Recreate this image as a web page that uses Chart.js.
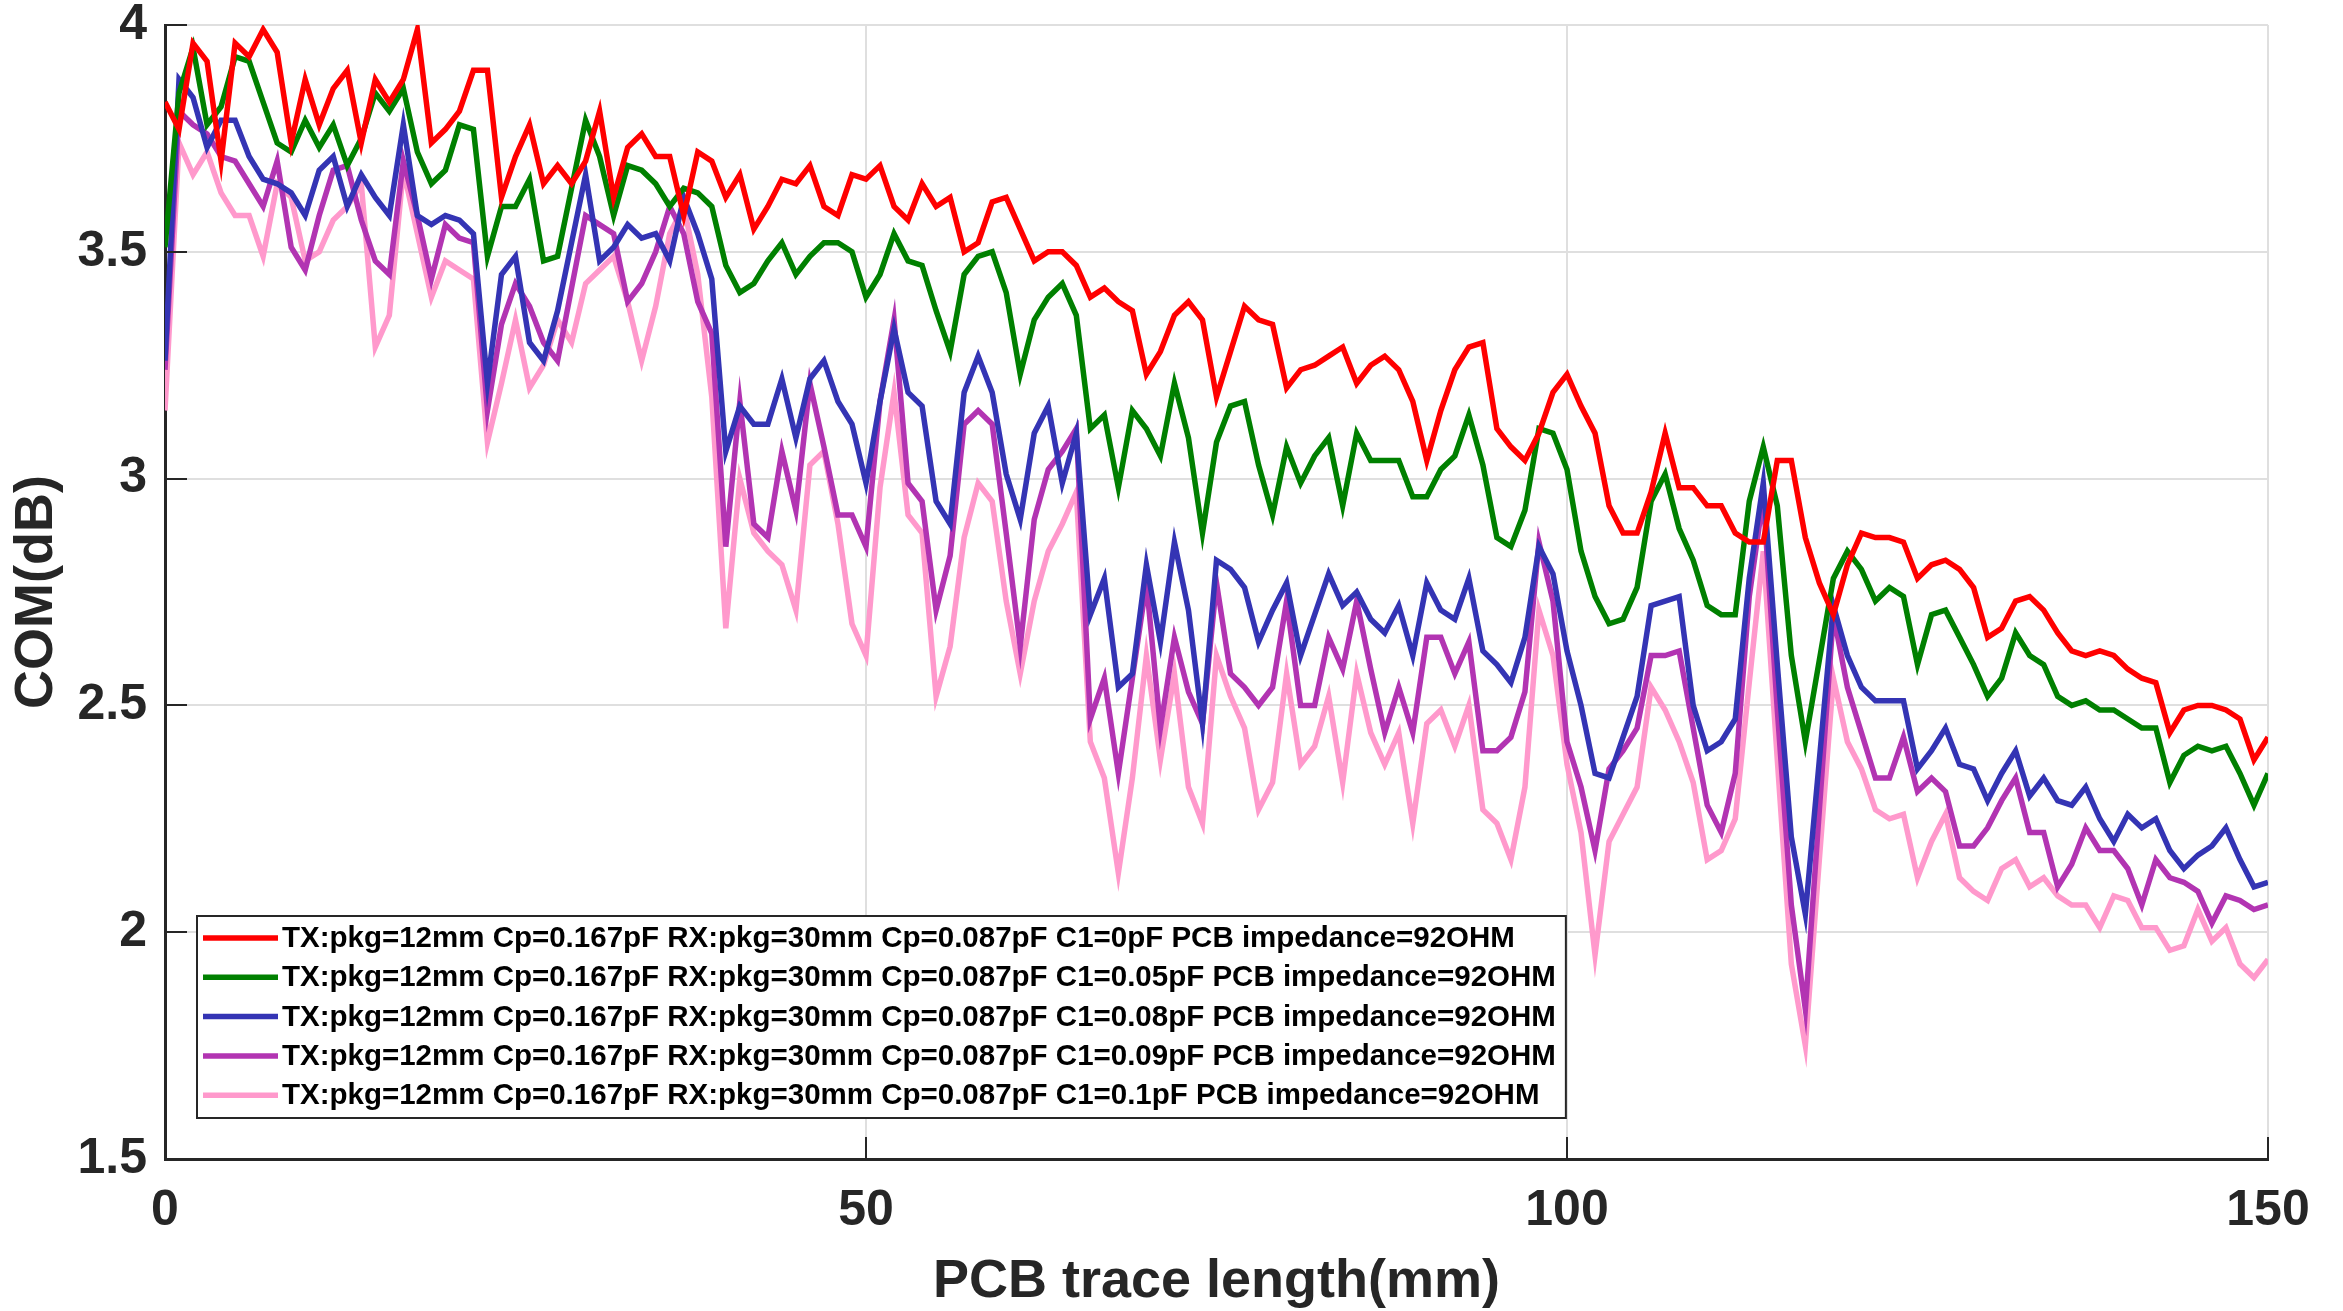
<!DOCTYPE html>
<html>
<head>
<meta charset="utf-8">
<title>COM vs PCB trace length</title>
<script src="https://cdn.jsdelivr.net/npm/chart.js@4.4.1/dist/chart.umd.min.js"></script>
<style>
    html, body { margin: 0; padding: 0; background: #fff; }
    #wrap { width: 2343px; height: 1311px; }
</style>
</head>
<body>
<div id="wrap"><canvas id="com-chart" width="2343" height="1311"></canvas></div>
<script>
// PCB trace length in mm, one sample per mm
const traceLength = Array.from({ length: 151 }, (_, i) => i);

const seriesLabels = [
    'TX:pkg=12mm Cp=0.167pF RX:pkg=30mm Cp=0.087pF C1=0pF PCB impedance=92OHM',
    'TX:pkg=12mm Cp=0.167pF RX:pkg=30mm Cp=0.087pF C1=0.05pF PCB impedance=92OHM',
    'TX:pkg=12mm Cp=0.167pF RX:pkg=30mm Cp=0.087pF C1=0.08pF PCB impedance=92OHM',
    'TX:pkg=12mm Cp=0.167pF RX:pkg=30mm Cp=0.087pF C1=0.09pF PCB impedance=92OHM',
    'TX:pkg=12mm Cp=0.167pF RX:pkg=30mm Cp=0.087pF C1=0.1pF PCB impedance=92OHM'
];
const seriesColors = ['#FF0000', '#008000', '#3434B4', '#B234B2', '#FF99CC'];

// COM (dB), C1 = 0pF
const comC1_0 = [
    3.83, 3.77, 3.96, 3.92, 3.70, 3.96, 3.93, 3.99, 3.94, 3.74,
    3.88, 3.78, 3.86, 3.90, 3.74, 3.88, 3.83, 3.88, 3.99, 3.74,
    3.77, 3.81, 3.90, 3.90, 3.62, 3.71, 3.78, 3.65, 3.69, 3.65,
    3.70, 3.81, 3.62, 3.73, 3.76, 3.71, 3.71, 3.58, 3.72, 3.70,
    3.62, 3.67, 3.55, 3.60, 3.66, 3.65, 3.69, 3.60, 3.58, 3.67,
    3.66, 3.69, 3.60, 3.57, 3.65, 3.60, 3.62, 3.50, 3.52, 3.61,
    3.62, 3.55, 3.48, 3.50, 3.50, 3.47, 3.40, 3.42, 3.39, 3.37,
    3.23, 3.28, 3.36, 3.39, 3.35, 3.18, 3.28, 3.38, 3.35, 3.34,
    3.20, 3.24, 3.25, 3.27, 3.29, 3.21, 3.25, 3.27, 3.24, 3.17,
    3.04, 3.15, 3.24, 3.29, 3.30, 3.11, 3.07, 3.04, 3.10, 3.19,
    3.23, 3.16, 3.10, 2.94, 2.88, 2.88, 2.97, 3.10, 2.98, 2.98,
    2.94, 2.94, 2.88, 2.86, 2.86, 3.04, 3.04, 2.87, 2.77, 2.70,
    2.81, 2.88, 2.87, 2.87, 2.86, 2.78, 2.81, 2.82, 2.80, 2.76,
    2.65, 2.67, 2.73, 2.74, 2.71, 2.66, 2.62, 2.61, 2.62, 2.61,
    2.58, 2.56, 2.55, 2.44, 2.49, 2.50, 2.50, 2.49, 2.47, 2.38,
    2.43
];

// COM (dB), C1 = 0.05pF
const comC1_005 = [
    3.51, 3.85, 3.95, 3.78, 3.82, 3.93, 3.92, 3.83, 3.74, 3.72,
    3.79, 3.73, 3.78, 3.69, 3.75, 3.85, 3.81, 3.86, 3.72, 3.65,
    3.68, 3.78, 3.77, 3.49, 3.60, 3.60, 3.66, 3.48, 3.49, 3.64,
    3.79, 3.71, 3.58, 3.69, 3.68, 3.65, 3.60, 3.64, 3.63, 3.60,
    3.47, 3.41, 3.43, 3.48, 3.52, 3.45, 3.49, 3.52, 3.52, 3.50,
    3.40, 3.45, 3.54, 3.48, 3.47, 3.37, 3.28, 3.45, 3.49, 3.50,
    3.41, 3.23, 3.35, 3.40, 3.43, 3.36, 3.11, 3.14, 2.98, 3.15,
    3.11, 3.05, 3.21, 3.09, 2.88, 3.08, 3.16, 3.17, 3.03, 2.92,
    3.07, 2.99, 3.05, 3.09, 2.94, 3.10, 3.04, 3.04, 3.04, 2.96,
    2.96, 3.02, 3.05, 3.14, 3.03, 2.87, 2.85, 2.93, 3.11, 3.10,
    3.02, 2.84, 2.74, 2.68, 2.69, 2.76, 2.95, 3.01, 2.89, 2.82,
    2.72, 2.70, 2.70, 2.95, 3.07, 2.94, 2.61, 2.42, 2.60, 2.78,
    2.84, 2.80, 2.73, 2.76, 2.74, 2.59, 2.70, 2.71, 2.65, 2.59,
    2.52, 2.56, 2.66, 2.61, 2.59, 2.52, 2.50, 2.51, 2.49, 2.49,
    2.47, 2.45, 2.45, 2.33, 2.39, 2.41, 2.40, 2.41, 2.35, 2.28,
    2.35
];

// COM (dB), C1 = 0.08pF
const comC1_008 = [
    3.26, 3.88, 3.84, 3.73, 3.79, 3.79, 3.71, 3.66, 3.65, 3.63,
    3.58, 3.68, 3.71, 3.60, 3.67, 3.62, 3.58, 3.78, 3.58, 3.56,
    3.58, 3.57, 3.54, 3.21, 3.45, 3.49, 3.30, 3.26, 3.37, 3.52,
    3.67, 3.48, 3.51, 3.56, 3.53, 3.54, 3.48, 3.62, 3.54, 3.44,
    3.06, 3.16, 3.12, 3.12, 3.22, 3.09, 3.22, 3.26, 3.17, 3.12,
    2.99, 3.17, 3.33, 3.19, 3.16, 2.95, 2.90, 3.19, 3.27, 3.19,
    3.01, 2.91, 3.10, 3.16, 2.99, 3.10, 2.70, 2.78, 2.54, 2.57,
    2.81, 2.64, 2.86, 2.71, 2.46, 2.82, 2.80, 2.76, 2.64, 2.71,
    2.77, 2.61, 2.70, 2.79, 2.72, 2.75, 2.69, 2.66, 2.72, 2.61,
    2.77, 2.71, 2.69, 2.78, 2.62, 2.59, 2.55, 2.65, 2.85, 2.79,
    2.62, 2.50, 2.35, 2.34, 2.43, 2.52, 2.72, 2.73, 2.74, 2.50,
    2.40, 2.42, 2.47, 2.78, 2.99, 2.59, 2.21, 2.04, 2.38, 2.72,
    2.61, 2.54, 2.51, 2.51, 2.51, 2.36, 2.40, 2.45, 2.37, 2.36,
    2.29, 2.35, 2.40, 2.30, 2.34, 2.29, 2.28, 2.32, 2.25, 2.20,
    2.26, 2.23, 2.25, 2.18, 2.14, 2.17, 2.19, 2.23, 2.16, 2.10,
    2.11
];

// COM (dB), C1 = 0.09pF
const comC1_009 = [
    3.24, 3.81, 3.78, 3.76, 3.71, 3.70, 3.65, 3.60, 3.70, 3.51,
    3.46, 3.58, 3.68, 3.69, 3.57, 3.48, 3.45, 3.70, 3.58, 3.44,
    3.56, 3.53, 3.52, 3.15, 3.34, 3.43, 3.38, 3.30, 3.26, 3.42,
    3.58, 3.56, 3.54, 3.39, 3.43, 3.50, 3.60, 3.54, 3.39, 3.32,
    2.85, 3.17, 2.90, 2.87, 3.06, 2.93, 3.21, 3.07, 2.92, 2.92,
    2.85, 3.17, 3.35, 2.99, 2.95, 2.71, 2.83, 3.12, 3.15, 3.12,
    2.88, 2.63, 2.91, 3.02, 3.06, 3.11, 2.47, 2.56, 2.35, 2.56,
    2.77, 2.45, 2.65, 2.53, 2.46, 2.77, 2.57, 2.54, 2.50, 2.54,
    2.73, 2.50, 2.50, 2.65, 2.58, 2.73, 2.58, 2.44, 2.54, 2.44,
    2.65, 2.65, 2.57, 2.64, 2.40, 2.40, 2.43, 2.53, 2.86, 2.73,
    2.42, 2.32, 2.18, 2.36, 2.40, 2.45, 2.61, 2.61, 2.62, 2.45,
    2.28, 2.22, 2.35, 2.74, 2.96, 2.49, 2.06, 1.83, 2.27, 2.70,
    2.54, 2.44, 2.34, 2.34, 2.43, 2.31, 2.34, 2.31, 2.19, 2.19,
    2.23, 2.29, 2.34, 2.22, 2.22, 2.10, 2.15, 2.23, 2.18, 2.18,
    2.14, 2.06, 2.16, 2.12, 2.11, 2.09, 2.02, 2.08, 2.07, 2.05,
    2.06
];

// COM (dB), C1 = 0.1pF
const comC1_01 = [
    3.15, 3.74, 3.67, 3.72, 3.63, 3.58, 3.58, 3.49, 3.65, 3.62,
    3.48, 3.50, 3.57, 3.60, 3.65, 3.29, 3.36, 3.68, 3.54, 3.40,
    3.48, 3.46, 3.44, 3.08, 3.21, 3.35, 3.20, 3.25, 3.35, 3.30,
    3.43, 3.46, 3.49, 3.39, 3.26, 3.38, 3.54, 3.60, 3.45, 3.18,
    2.67, 3.00, 2.88, 2.84, 2.81, 2.71, 3.03, 3.06, 2.90, 2.68,
    2.61, 2.98, 3.19, 2.92, 2.88, 2.52, 2.63, 2.87, 2.99, 2.95,
    2.73, 2.57, 2.73, 2.84, 2.90, 2.97, 2.42, 2.34, 2.13, 2.34,
    2.61, 2.38, 2.57, 2.32, 2.24, 2.61, 2.52, 2.45, 2.27, 2.33,
    2.57, 2.37, 2.41, 2.52, 2.33, 2.57, 2.44, 2.37, 2.44, 2.24,
    2.46, 2.49, 2.41, 2.50, 2.27, 2.24, 2.16, 2.32, 2.71, 2.61,
    2.37, 2.22, 1.95, 2.20, 2.26, 2.32, 2.54, 2.49, 2.42, 2.33,
    2.16, 2.18, 2.25, 2.55, 2.84, 2.38, 1.93, 1.75, 2.16, 2.56,
    2.42, 2.36, 2.27, 2.25, 2.26, 2.12, 2.20, 2.26, 2.12, 2.09,
    2.07, 2.14, 2.16, 2.10, 2.12, 2.08, 2.06, 2.06, 2.01, 2.08,
    2.07, 2.01, 2.01, 1.96, 1.97, 2.05, 1.98, 2.01, 1.93, 1.90,
    1.94
];

const xTicks = [0, 50, 100, 150];
const yTicks = [1.5, 2, 2.5, 3, 3.5, 4];

const allSeries = [comC1_0, comC1_005, comC1_008, comC1_009, comC1_01];

const FONT = "'Liberation Sans', Arial, Helvetica, sans-serif";
const AXIS_COLOR = '#262626';

// legend box drawn inside the plot, lower left
const legendBoxPlugin = {
    id: 'legendBox',
    afterDatasetsDraw(chart) {
        const { ctx, chartArea } = chart;
        const rowH = 39.3;
        ctx.save();
        ctx.font = 'bold 29.5px ' + FONT;
        let maxW = 0;
        chart.data.datasets.forEach(ds => {
            maxW = Math.max(maxW, ctx.measureText(ds.label).width);
        });
        const w = 85 + maxW + 10;
        const h = 202;
        const x0 = chartArea.left + 32;
        const y0 = chartArea.bottom - 41 - h;

        ctx.fillStyle = '#ffffff';
        ctx.fillRect(x0, y0, w, h);
        ctx.strokeStyle = AXIS_COLOR;
        ctx.lineWidth = 2;
        ctx.strokeRect(x0, y0, w, h);

        chart.data.datasets.forEach((ds, i) => {
            const y = y0 + 22 + i * rowH;
            ctx.strokeStyle = ds.borderColor;
            ctx.lineWidth = 5.5;
            ctx.beginPath();
            ctx.moveTo(x0 + 6, y);
            ctx.lineTo(x0 + 81, y);
            ctx.stroke();
            ctx.fillStyle = '#000000';
            ctx.textAlign = 'left';
            ctx.textBaseline = 'middle';
            ctx.fillText(ds.label, x0 + 85, y + 1);
        });
        ctx.restore();
    }
};

// tick marks pointing into the plot on the left and bottom axes
const innerTicksPlugin = {
    id: 'innerTicks',
    afterDraw(chart) {
        const { ctx, chartArea, scales } = chart;
        const len = 22;
        ctx.save();
        ctx.strokeStyle = AXIS_COLOR;
        ctx.lineWidth = 2;
        ctx.beginPath();
        yTicks.forEach(v => {
            const py = Math.round(scales.y.getPixelForValue(v));
            ctx.moveTo(chartArea.left, py);
            ctx.lineTo(chartArea.left + len, py);
        });
        xTicks.forEach(v => {
            const px = Math.round(scales.x.getPixelForValue(v));
            ctx.moveTo(px, chartArea.bottom);
            ctx.lineTo(px, chartArea.bottom - len);
        });
        ctx.stroke();
        ctx.restore();
    }
};

const ctx = document.getElementById('com-chart').getContext('2d');

new Chart(ctx, {
    type: 'line',
    data: {
        datasets: allSeries.map((values, i) => ({
            label: seriesLabels[i],
            data: values.map((v, j) => ({ x: traceLength[j], y: v })),
            borderColor: seriesColors[i],
            backgroundColor: seriesColors[i],
            borderWidth: 5.5,
            pointRadius: 0,
            tension: 0,
            fill: false
        }))
    },
    options: {
        responsive: false,
        animation: false,
        devicePixelRatio: 1,
        layout: { padding: { top: 25, right: 75, left: 0, bottom: 0 } },
        plugins: {
            legend: { display: false },
            tooltip: { enabled: false }
        },
        scales: {
            x: {
                type: 'linear',
                min: 0,
                max: 150,
                afterFit: scale => {
                    scale.height = 152;
                    scale.paddingLeft = 0;
                    scale.paddingRight = 0;
                },
                afterBuildTicks: scale => { scale.ticks = xTicks.map(v => ({ value: v })); },
                grid: { color: '#DFDFDF', lineWidth: 2, drawTicks: false },
                border: { display: true, color: AXIS_COLOR, width: 3 },
                ticks: {
                    padding: 22,
                    color: AXIS_COLOR,
                    font: { family: FONT, size: 50, weight: 'bold' },
                    maxRotation: 0,
                    callback: value => String(value)
                },
                title: {
                    display: true,
                    text: 'PCB trace length(mm)',
                    color: AXIS_COLOR,
                    font: { family: FONT, size: 54, weight: 'bold', lineHeight: 1 },
                    padding: { top: 0, bottom: 2 }
                }
            },
            y: {
                min: 1.5,
                max: 4,
                afterFit: scale => {
                    scale.width = 165;
                    scale.paddingTop = 0;
                    scale.paddingBottom = 0;
                },
                afterBuildTicks: scale => { scale.ticks = yTicks.map(v => ({ value: v })); },
                grid: { color: '#DFDFDF', lineWidth: 2, drawTicks: false },
                border: { display: true, color: AXIS_COLOR, width: 3 },
                ticks: {
                    padding: 18,
                    color: AXIS_COLOR,
                    font: { family: FONT, size: 50, weight: 'bold' },
                    callback: value => String(value)
                },
                title: {
                    display: true,
                    text: 'COM(dB)',
                    color: AXIS_COLOR,
                    font: { family: FONT, size: 54, weight: 'bold', lineHeight: 1 },
                    padding: { top: 10, bottom: 0 }
                }
            }
        }
    },
    plugins: [legendBoxPlugin, innerTicksPlugin]
});
</script>
</body>
</html>
